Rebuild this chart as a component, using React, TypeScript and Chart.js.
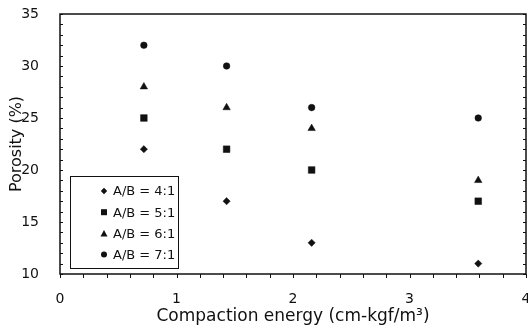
import React, { useEffect, useRef } from "react";
import { Chart, registerables } from "chart.js";

Chart.register(...registerables);

const energy = [0.72, 1.43, 2.16, 3.59];
const ratio41 = [22, 17, 13, 11];
const ratio51 = [25, 22, 20, 17];
const ratio61 = [28, 26, 24, 19];
const ratio71 = [32, 30, 26, 25];
const seriesLabels = ["A/B = 4:1", "A/B = 5:1", "A/B = 6:1", "A/B = 7:1"];
const xTitle = "Compaction energy (cm-kgf/m\u00B3)";
const yTitle = "Porosity (%)";

const styles = ["rectRot", "rect", "triangle", "circle"];
const radii = [3.6, 4.7, 4.3, 3.3];

function drawMarker(ctx: CanvasRenderingContext2D, style: string, x: number, y: number) {
  ctx.beginPath();
  if (style === "rectRot") {
    const r = 3.2;
    ctx.moveTo(x, y - r);
    ctx.lineTo(x + r, y);
    ctx.lineTo(x, y + r);
    ctx.lineTo(x - r, y);
    ctx.closePath();
  } else if (style === "rect") {
    ctx.rect(x - 3, y - 3, 6, 6);
  } else if (style === "triangle") {
    ctx.moveTo(x, y - 3.5);
    ctx.lineTo(x + 3.5, y + 3);
    ctx.lineTo(x - 3.5, y + 3);
    ctx.closePath();
  } else {
    ctx.arc(x, y, 3, 0, Math.PI * 2);
  }
  ctx.fill();
}

const PLOT_RIGHT = 526;

const boxPlugin = {
  id: "boxAndTicks",
  afterLayout(chart: any) {
    const a = chart.chartArea;
    a.right = PLOT_RIGHT;
    a.width = a.right - a.left;
    const xs = chart.scales.x;
    xs.right = PLOT_RIGHT;
    xs.width = xs.right - xs.left;
    xs.configure();
  },
  afterDraw(chart: any) {
    const { ctx, chartArea: a, scales } = chart;
    const xs = scales.x;
    const ys = scales.y;
    ctx.save();
    ctx.strokeStyle = "#111";
    ctx.lineWidth = 1.5;
    ctx.strokeRect(a.left, a.top, a.right - a.left, a.bottom - a.top);
    ctx.lineWidth = 1;
    ctx.beginPath();
    for (let v = 10; v <= 35; v += 1) {
      const y = Math.round(ys.getPixelForValue(v)) + 0.5;
      ctx.moveTo(a.left, y);
      ctx.lineTo(a.left + 3, y);
      ctx.moveTo(a.right, y);
      ctx.lineTo(a.right - 3, y);
    }
    for (let i = 0; i <= 20; i++) {
      const x = Math.round(xs.getPixelForValue(i * 0.2)) + 0.5;
      ctx.moveTo(x, a.bottom);
      ctx.lineTo(x, a.bottom + 4);
    }
    ctx.stroke();

    // legend
    const lx = 70, ly = 176, lw = 108, lh = 92;
    ctx.fillStyle = "#fff";
    ctx.fillRect(lx, ly, lw, lh);
    ctx.strokeStyle = "#111";
    ctx.lineWidth = 1;
    ctx.strokeRect(lx + 0.5, ly + 0.5, lw, lh);
    ctx.font = "13px 'DejaVu Sans'";
    ctx.textBaseline = "middle";
    ctx.textAlign = "left";
    seriesLabels.forEach((lab, i) => {
      const y = 191 + i * 21.2;
      ctx.fillStyle = "#111";
      drawMarker(ctx, styles[i], 104, y);
      ctx.fillText(lab, 113, y + 1);
    });
    ctx.restore();
  },
};

export default function App() {
  const ref = useRef<HTMLCanvasElement>(null);
  useEffect(() => {
    if (!ref.current) return;
    const seriesData = [ratio41, ratio51, ratio61, ratio71];
    const chart = new Chart(ref.current, {
      type: "scatter",
      data: {
        datasets: seriesData.map((vals, i) => ({
          label: seriesLabels[i],
          data: vals.map((v, j) => ({ x: energy[j], y: v })),
          pointStyle: styles[i] as any,
          pointRadius: radii[i],
          backgroundColor: "#111",
          borderColor: "#111",
          borderWidth: 0.5,
        })),
      },
      options: {
        animation: false,
        responsive: false,
        maintainAspectRatio: false,
        layout: { padding: { top: 14, right: 2, left: 0, bottom: 0 } },
        plugins: { legend: { display: false }, tooltip: { enabled: false } },
        scales: {
          x: {
            type: "linear",
            min: 0,
            max: 4,
            ticks: { stepSize: 1, color: "#111", font: { family: "'DejaVu Sans'", size: 14 }, padding: 9, maxRotation: 0 },
            grid: { display: false },
            border: { display: false },
            title: { display: true, text: xTitle, color: "#111", font: { family: "'DejaVu Sans'", size: 17 }, padding: { top: 0, bottom: 6 } },
            afterFit: (s: any) => { s.height = 59; s.paddingLeft = 0; s.paddingRight = 0; },
          },
          y: {
            type: "linear",
            min: 10,
            max: 35,
            ticks: { stepSize: 5, color: "#111", font: { family: "'DejaVu Sans'", size: 14 }, padding: 13 },
            grid: { display: false },
            border: { display: false },
            title: { display: true, text: yTitle, color: "#111", font: { family: "'DejaVu Sans'", size: 16 }, padding: { top: 7, bottom: 0 } },
            afterFit: (s: any) => { s.width = 60; s.paddingTop = 0; s.paddingBottom = 0; },
          },
        },
      },
      plugins: [boxPlugin],
    });
    return () => chart.destroy();
  }, []);
  return (
    <div style={{ position: "fixed", left: 0, top: 0, width: 528, height: 333, background: "#fff" }}>
      <canvas ref={ref} width={528} height={333} style={{ width: 528, height: 333 }} />
    </div>
  );
}
